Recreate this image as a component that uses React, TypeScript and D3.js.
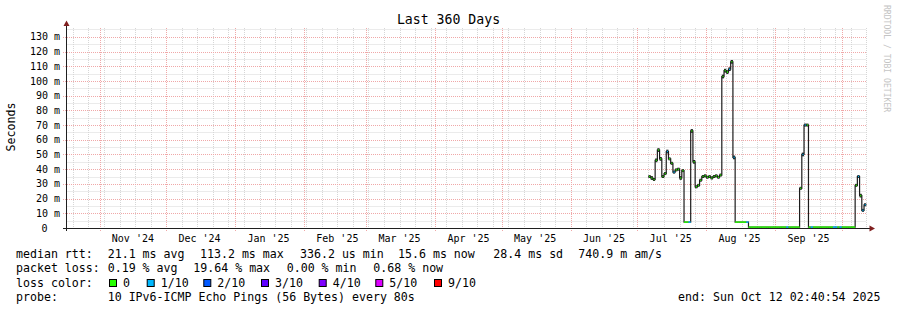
import React from "react";
import * as d3 from "d3";

// ---------- data ----------
const chartTitle = "Last 360 Days";
const yAxisTitle = "Seconds";
const watermark = "RRDTOOL / TOBI OETIKER";
const rangeEnd = "2025-10-12T02:40:54Z";
const rangeDays = 360;
const yMaxMs = 136;
const yLabelTicks = [0, 10, 20, 30, 40, 50, 60, 70, 80, 90, 100, 110, 120, 130];
const yMinorTicks = [5, 15, 25, 35, 45, 55, 65, 75, 85, 95, 105, 115, 125, 135];

const seriesStart = "2025-07-06";
// daily median rtt (ms), Jul 6 .. Oct 11 2025
const medianRtt = [
  // Jul 6-31
  35, 34, 33, 46, 53, 47, 35, 37, 52, 47, 44, 38, 39.5, 40, 34, 39, 4, 4, 4, 66, 45, 28, 29, 32.5, 35, 35.5,
  // Aug 1-31
  34.5, 35, 34, 35, 35.5, 34.5, 36, 103, 107, 106, 108, 113, 48, 4, 4, 4, 4, 4, 4,
  0.6, 0.6, 0.6, 0.6, 0.6, 0.6, 0.6, 0.6, 0.6, 0.6, 0.6, 0.6,
  // Sep 1-30
  0.6, 0.6, 0.6, 0.6, 0.6, 0.6, 0.6, 0.6, 0.6, 0.6, 0.6, 27, 50, 70, 70,
  0.6, 0.6, 0.6, 0.6, 0.6, 0.6, 0.6, 0.6, 0.6, 0.6, 0.6, 0.6, 0.6, 0.6, 0.6,
  // Oct 1-11
  0.6, 0.6, 0.6, 0.6, 0.6, 0.6, 29, 35, 22, 12, 15.8,
];
// spread of the ping "smoke" around the median (ms)
const smokeSpread = [
  2, 2.5, 2, 2.5, 2.5, 2.5, 2, 2, 2.5, 2, 2, 2, 2, 2, 2.5, 2, 0, 0, 0, 2.5, 2.5, 2, 2, 2, 2, 2,
  2, 2, 2, 2, 2, 2, 2, 2.5, 2.5, 2.5, 2.5, 2.5, 2.5, 0, 0, 0, 0, 0, 0,
  0, 0, 0, 0, 0, 0, 0, 0, 0, 0, 0, 0,
  0, 0, 0, 0, 0, 0, 0, 0, 0, 0, 0, 2, 2.5, 2, 2,
  0, 0, 0, 0, 0, 0, 0, 0, 0, 0, 0, 0, 0, 0, 0,
  0, 0, 0, 0, 0, 0, 2, 2, 2.5, 2, 2,
];
// packet loss class per day (index into lossColors)
const lossIndex = [
  0, 0, 0, 0, 0, 0, 0, 0, 1, 0, 0, 1, 0, 0, 0, 0, 0, 0, 1, 0, 0, 0, 0, 0, 0, 0,
  0, 0, 0, 0, 0, 0, 0, 0, 0, 0, 1, 0, 1, 0, 0, 0, 0, 0, 1,
  0, 0, 0, 0, 0, 0, 0, 0, 0, 0, 0, 0,
  0, 0, 0, 0, 0, 1, 0, 0, 0, 0, 0, 0, 1, 1, 0,
  0, 1, 0, 0, 0, 0, 0, 0, 0, 0, 0, 1, 1, 0, 1,
  0, 0, 0, 0, 0, 0, 0, 1, 0, 1, 1,
];
const lossColors = ["#26ff00", "#00b8ff", "#0059ff", "#5e00ff", "#7e00ff", "#dd00ff", "#ff0000"];
const lossLabels = ["0", "1/10", "2/10", "3/10", "4/10", "5/10", "9/10"];

const rttLegend = ["median rtt:", "21.1 ms avg", "113.2 ms max", "336.2 us min", "15.6 ms now", "28.4 ms sd", "740.9 m am/s"];
const lossLegend = ["packet loss:", "0.19 % avg", "19.64 % max", "0.00 % min", "0.68 % now"];
const lossColorLabel = "loss color:";
const probeLegend = ["probe:", "10 IPv6-ICMP Echo Pings (56 Bytes) every 80s"];
const endLabel = "end: Sun Oct 12 02:40:54 2025";

// ---------- component ----------
const MONO = "'DejaVu Sans Mono', monospace";

export default function App() {
  const W = 897;
  const H = 310;
  const x0 = 66.5;
  const x1 = 866.5;
  const yBottom = 228;
  const yTop = 28;

  const end = new Date(rangeEnd);
  const start = d3.utcDay.offset(end, -rangeDays);
  const x = d3.scaleUtc().domain([start, end]).range([x0, x1]);
  const y = d3.scaleLinear().domain([0, yMaxMs]).range([yBottom, yTop]);

  const weeks = d3.utcSunday.range(start, end);
  const months = d3.utcMonth.range(start, end);
  const monthLabels = d3.utcMonth
    .range(d3.utcMonth.offset(start, -1), end)
    .map((m) => ({ m, c: d3.utcDay.offset(m, 15) }))
    .filter((d) => d.c > start && d.c < end);
  const fmt = d3.utcFormat("%b '%y");

  const s0 = new Date(seriesStart + "T00:00:00Z");
  const pts = medianRtt.map((v, i) => ({
    t0: d3.utcDay.offset(s0, i),
    t1: new Date(Math.min(+d3.utcDay.offset(s0, i + 1), +end)),
    v,
    s: smokeSpread[i],
    l: lossIndex[i],
  }));
  const stepData: [number, number][] = pts.map((p) => [x(p.t0), y(p.v)]);
  stepData.push([x(pts[pts.length - 1].t1), y(pts[pts.length - 1].v)]);
  const stepPath = d3.line().curve(d3.curveStepAfter)(stepData) || "";

  const px = (v: number) => Math.round(v) + 0.5;
  const minorCol = "#d6d6d6";
  const majorCol = "#f0a8a8";

  const rttX = [16, 107.7, 200, 300, 398, 493.3, 578.3];
  const lossX = [16, 107.7, 193.3, 286.7, 373.3];
  const boxX = [109, 146.7, 203.3, 261, 318.7, 375.3, 434];
  const rowY = [258.2, 272.4, 286.6, 300.8];

  return (
    <svg
      width={W}
      height={H}
      style={{ position: "fixed", left: 0, top: 0, background: "#fff" }}
      fontFamily={MONO}
    >
      <rect x={0} y={0} width={W} height={H} fill="#ffffff" />

      {/* minor horizontal grid */}
      {yMinorTicks.map((v) => (
        <line key={"hm" + v} x1={x0} x2={x1} y1={px(y(v))} y2={px(y(v))} stroke={minorCol} strokeDasharray="1,1" />
      ))}
      {/* minor vertical grid (weeks) */}
      {weeks.map((w) => (
        <line key={"vw" + +w} x1={px(x(w))} x2={px(x(w))} y1={yTop} y2={yBottom} stroke={minorCol} strokeDasharray="1,1" />
      ))}
      {/* major horizontal grid */}
      {yLabelTicks.filter((v) => v > 0).map((v) => (
        <line key={"hM" + v} x1={63} x2={x1} y1={px(y(v))} y2={px(y(v))} stroke={majorCol} strokeDasharray="1,1" />
      ))}
      {/* major vertical grid (months) */}
      {months.map((m) => (
        <line key={"vM" + +m} x1={px(x(m))} x2={px(x(m))} y1={yTop} y2={yBottom + 3} stroke={majorCol} strokeDasharray="1,1" />
      ))}

      {/* y labels */}
      {yLabelTicks.map((v) =>
        v === 0 ? (
          <text key={"yl" + v} x={47.5} y={y(v) + 3.6} fontSize={10} textAnchor="end" fill="#000">0</text>
        ) : (
          <text key={"yl" + v} x={60} y={y(v) + 3.6} fontSize={10} textAnchor="end" fill="#000">{`${v} m`}</text>
        )
      )}
      {/* x labels */}
      {monthLabels.map((d) => (
        <text key={"xl" + +d.m} x={x(d.c)} y={241.5} fontSize={10} textAnchor="middle" fill="#000">{fmt(d.m)}</text>
      ))}

      {/* smoke */}
      {pts.filter((p) => p.s > 0).map((p, i) => (
        <rect
          key={"sm" + i}
          x={x(p.t0)}
          width={x(p.t1) - x(p.t0)}
          y={y(p.v + p.s / 2)}
          height={y(p.v - p.s / 2) - y(p.v + p.s / 2)}
          fill="#1c1c1c"
        />
      ))}
      {/* step line */}
      <path d={stepPath} fill="none" stroke="#1c1c1c" strokeWidth={1.2} />
      {/* median coloured by loss */}
      {pts.map((p, i) => {
        const a = x(p.t0);
        const b = x(p.t1);
        const w = b - a;
        const xa = p.s > 0 ? a + w * 0.3 : a;
        const xb = p.s > 0 ? a + w * 0.75 : b;
        return (
          <line
            key={"md" + i}
            x1={xa}
            x2={xb}
            y1={y(p.v)}
            y2={y(p.v)}
            stroke={lossColors[p.l]}
            strokeWidth={p.s > 0 ? 1.6 : 1.5}
          />
        );
      })}

      {/* axes */}
      <line x1={63} x2={870} y1={yBottom + 0.5} y2={yBottom + 0.5} stroke="#1f1f1f" />
      <line x1={x0} x2={x0} y1={yBottom + 3} y2={25} stroke="#1f1f1f" />
      <path d={`M${x0},20.5 L${x0 - 3},26 L${x0 + 3},26 Z`} fill="#801f1f" />
      <path d={`M875,${yBottom + 0.5} L869.5,${yBottom - 2.5} L869.5,${yBottom + 3.5} Z`} fill="#801f1f" />

      {/* title */}
      <text x={448.5} y={24} fontSize={13.2} textAnchor="middle" fill="#000">{chartTitle}</text>
      {/* y axis title */}
      <text transform={`translate(15,127) rotate(-90)`} fontSize={11.6} textAnchor="middle" fill="#000">{yAxisTitle}</text>
      {/* watermark */}
      <text transform={`translate(884,5) rotate(90)`} fontSize={8.1} fill="#c4c4c4">{watermark}</text>

      {/* legend */}
      <g fontSize={11.6} fill="#000">
        {rttLegend.map((t, i) => (
          <text key={"r" + i} x={rttX[i]} y={rowY[0]} xmlSpace="preserve">{t}</text>
        ))}
        {lossLegend.map((t, i) => (
          <text key={"l" + i} x={lossX[i]} y={rowY[1]} xmlSpace="preserve">{t}</text>
        ))}
        <text x={16} y={rowY[2]}>{lossColorLabel}</text>
        {lossLabels.map((t, i) => (
          <g key={"b" + i}>
            <rect x={boxX[i] + 0.5} y={279.5} width={7} height={7} fill={lossColors[i]} stroke="#000" strokeWidth={1} />
            <text x={boxX[i] + 14} y={rowY[2]}>{t}</text>
          </g>
        ))}
        <text x={16} y={rowY[3]}>{probeLegend[0]}</text>
        <text x={107.7} y={rowY[3]}>{probeLegend[1]}</text>
        <text x={880.5} y={rowY[3]} textAnchor="end">{endLabel}</text>
      </g>
    </svg>
  );
}
